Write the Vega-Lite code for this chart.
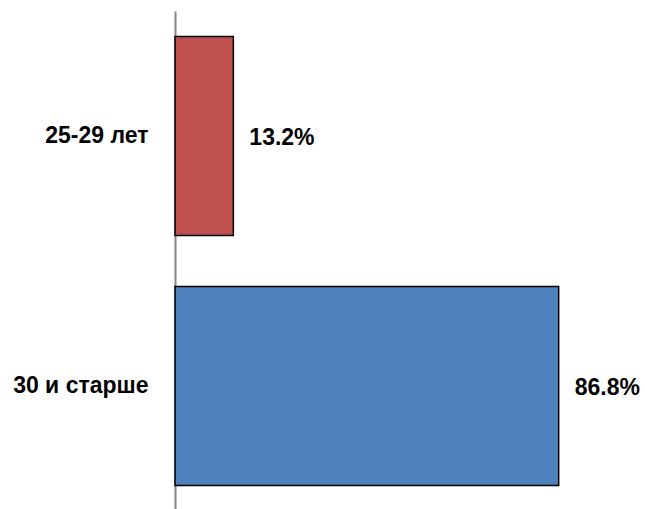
{
  "$schema": "https://vega.github.io/schema/vega-lite/v6.json",
  "autosize": "none",
  "width": 442,
  "height": 500,
  "padding": {"left": 175, "top": 11, "right": 28, "bottom": 0},
  "background": "white",
  "config": {"view": {"stroke": null}},
  "data": {"values": [
    {"group": "25-29 лет", "pct": 13.2, "label": "13.2%"},
    {"group": "30 и старше", "pct": 86.8, "label": "86.8%"}
  ]},
  "encoding": {
    "y": {
      "field": "group", "type": "nominal", "sort": null,
      "scale": {"paddingInner": 0.204, "paddingOuter": 0.102},
      "axis": {
        "title": null, "ticks": false, "grid": false,
        "domainColor": "#868686", "domainWidth": 2,
        "labelFont": "Liberation Sans", "labelFontWeight": "bold",
        "labelFontSize": 23, "labelColor": "black", "labelPadding": 27
      }
    },
    "x": {
      "field": "pct", "type": "quantitative",
      "scale": {"domain": [0, 100], "nice": false},
      "axis": null
    }
  },
  "layer": [
    {
      "mark": {"type": "bar", "stroke": "black", "strokeWidth": 1.5},
      "encoding": {
        "color": {
          "field": "group", "type": "nominal", "legend": null,
          "scale": {"domain": ["25-29 лет", "30 и старше"], "range": ["#C0504D", "#4F81BD"]}
        }
      }
    },
    {
      "mark": {"type": "text", "align": "left", "dx": 16, "dy": 2, "font": "Liberation Sans", "fontWeight": "bold", "fontSize": 23, "color": "black"},
      "encoding": {"text": {"field": "label"}}
    }
  ]
}
